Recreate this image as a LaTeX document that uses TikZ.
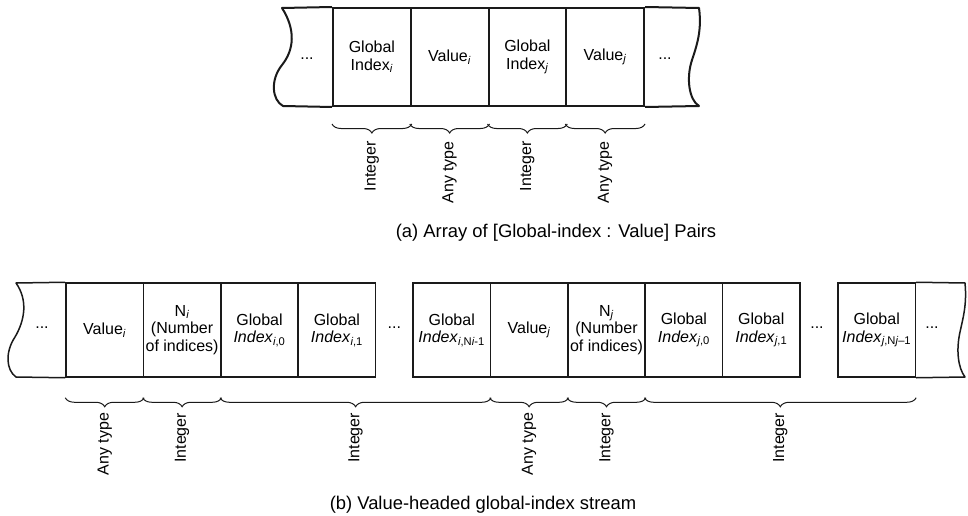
\documentclass[tikz,border=0pt]{standalone}
\usepackage{fontspec}
\setmainfont{Liberation Sans}
\usetikzlibrary{decorations.pathreplacing,calc}
\definecolor{ink}{HTML}{1A1A1A}
\newcommand{\sbi}[1]{\textsubscript{#1}}

\begin{document}
\begin{tikzpicture}[x=1pt,y=-1pt,
  frame/.style={draw=ink, line width=2pt, line join=round},
  cellbox/.style={draw=ink, line width=2pt, minimum height=98pt, minimum width=77.75pt,
    inner sep=0pt, align=center, font=\fontsize{16}{17.5}\selectfont},
  bcell/.style={cellbox, line width=1.5pt, minimum height=94pt, minimum width=77.4pt},
  txt/.style={align=center, inner sep=0pt, font=\fontsize{16}{17.5}\selectfont},
  lab/.style={rotate=90, anchor=east, inner sep=0pt, font=\fontsize{16}{18}\selectfont},
  captxt/.style={inner sep=0pt, font=\fontsize{18.4}{20}\selectfont},
  brc/.style={draw=ink, line width=1pt, decorate, decoration={brace, mirror, amplitude=9pt}},
]
\useasboundingbox (0,0) rectangle (968,516);

% ---------- (a) array of index/value pairs ----------
\node[cellbox] (gi) at (371.875,57) {Global\\Index\sbi{\textit{i}}};
\node[cellbox] (vi) at (449.625,57) {Value\sbi{\textit{i}}};
\node[cellbox] (gj) at (527.375,57) {Global\\Index\sbi{\textit{j}}};
\node[cellbox] (vj) at (605.125,57) {Value\sbi{\textit{j}}};

% torn ends
\draw[frame] (gi.north west) -- (282,8) .. controls (296,30) and (294,50) .. (282,65)
  .. controls (270,80) and (272,100) .. (283,106) -- (gi.south west);
\draw[frame] (vj.north east) -- (699,8) .. controls (702,30) and (697,45) .. (692,60)
  .. controls (686,78) and (689,100) .. (699,106) -- (vj.south east);
\node[txt] (adl) at (307,59) {...};
\node[txt] (adr) at (665,59) {...};

% type braces
\foreach \c in {gi,vi,gj,vj}
  \draw[brc] ([yshift=-17pt]\c.south west) -- ([yshift=-17pt]\c.south east);
\node[lab] (la1) at ([yshift=-34pt]gi.south) {Integer};
\node[lab] (la2) at ([yshift=-34pt]vi.south) {Any type};
\node[lab] (la3) at ([yshift=-34pt]gj.south) {Integer};
\node[lab] (la4) at ([yshift=-34pt]vj.south) {Any type};

\node[captxt] (capa) at (556,233) {(a) Array of [Global-index : Value] Pairs};

% ---------- (b) value-headed index stream ----------
\node[bcell] (b1) at (104.7,330) {Value\sbi{\textit{i}}};
\node[bcell] (b2) at (182.1,330) {N\sbi{\textit{i}}\\(Number\\of indices)};
\node[bcell] (b3) at (259.5,330) {Global\\\textit{Index}\sbi{\textit{i},0}};
\node[bcell] (b4) at (336.9,330) {Global\\\textit{Index}\sbi{\textit{i},1}};
\node[bcell] (b5) at (451.7,330) {Global\\\textit{Index}\sbi{\textit{i},N\textit{i}-1}};
\node[bcell] (b6) at (529.1,330) {Value\sbi{\textit{j}}};
\node[bcell] (b7) at (606.5,330) {N\sbi{\textit{j}}\\(Number\\of indices)};
\node[bcell] (b8) at (683.9,330) {Global\\\textit{Index}\sbi{\textit{j},0}};
\node[bcell] (b9) at (761.3,330) {Global\\\textit{Index}\sbi{\textit{j},1}};
\node[bcell] (b10) at (876.7,330) {Global\\\textit{Index}\sbi{\textit{j},N\textit{j}–1}};

% torn ends
\draw[frame, line width=1.5pt] (b1.north west) -- (16,283) .. controls (28,300) and (25,320) .. (15,337)
  .. controls (5,352) and (6,370) .. (16,377) -- (b1.south west);
\draw[frame, line width=1.5pt] (b10.north east) -- (965,283) .. controls (967,305) and (963,318) .. (960,332)
  .. controls (956,350) and (958,368) .. (965,377) -- (b10.south east);
\node[txt] (bdl) at (42,328) {...};
\node[txt] (bdr) at (932,328) {...};
\node[txt] (bdi) at ($(b4.east)!0.5!(b5.west)+(0,-2)$) {...};
\node[txt] (bdj) at ($(b9.east)!0.5!(b10.west)+(-2,-2)$) {...};

% type braces
\draw[brc] ([yshift=-20pt]b1.south west) -- ([yshift=-20pt]b1.south east);
\draw[brc] ([yshift=-20pt]b2.south west) -- ([yshift=-20pt]b2.south east);
\draw[brc] ([yshift=-20pt]b3.south west) -- ([yshift=-20pt]b5.south east);
\draw[brc] ([yshift=-20pt]b6.south west) -- ([yshift=-20pt]b6.south east);
\draw[brc] ([yshift=-20pt]b7.south west) -- ([yshift=-20pt]b7.south east);
\draw[brc] ([yshift=-20pt]b8.south west) -- ([yshift=-20pt]b10.south east);
\node[lab] (lb1) at ([yshift=-35pt]b1.south) {Any type};
\node[lab] (lb2) at ([yshift=-35pt]b2.south) {Integer};
\node[lab] (lb3) at ([yshift=-35pt]$(b3.south west)!0.5!(b5.south east)$) {Integer};
\node[lab] (lb4) at ([yshift=-35pt]b6.south) {Any type};
\node[lab] (lb5) at ([yshift=-35pt]b7.south) {Integer};
\node[lab] (lb6) at ([yshift=-35pt]$(b8.south west)!0.5!(b10.south east)$) {Integer};

\node[captxt] (capb) at (483,505) {(b) Value-headed global-index stream};
\end{tikzpicture}
\end{document}
